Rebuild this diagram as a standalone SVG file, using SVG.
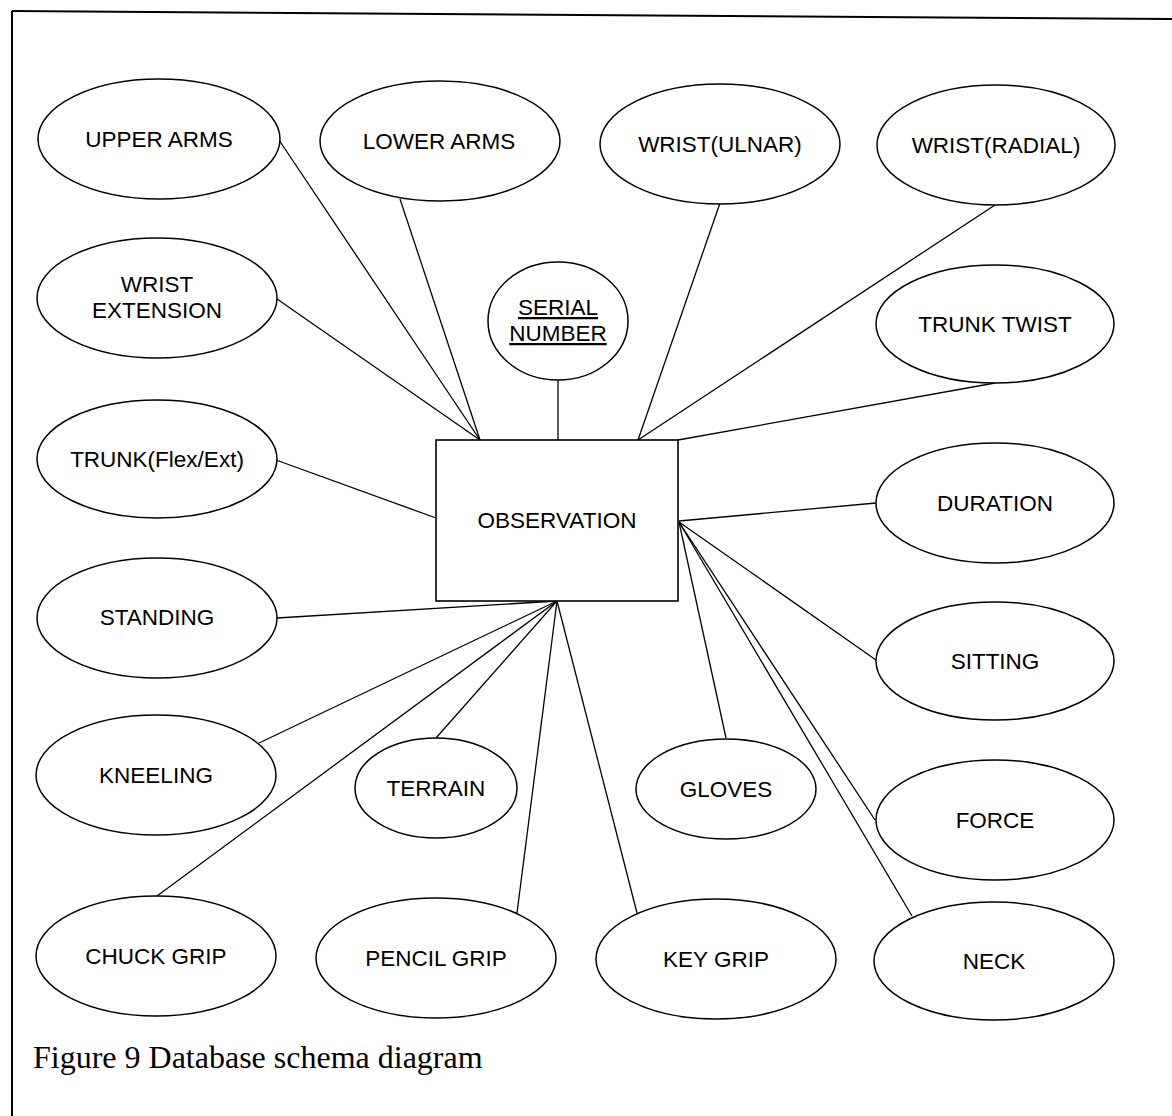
<svg xmlns="http://www.w3.org/2000/svg" width="1172" height="1116" viewBox="0 0 1172 1116">
<style>
  .bg { fill: #ffffff; }
  .frame { stroke: #000; stroke-width: 2; fill: none; }
  .attr ellipse { fill: #fff; stroke: #000; stroke-width: 1.5; }
  .ent rect { fill: #fff; stroke: #000; stroke-width: 1.6; }
  text { font-family: "Liberation Sans", Arial, sans-serif; font-size: 22.5px; fill: #000; text-anchor: middle; }
  .key { text-decoration: underline; }
  .conn line { stroke: #000; stroke-width: 1.3; }
  .caption { font-family: "Liberation Serif", "Times New Roman", serif; font-size: 32px; text-anchor: start; }
</style>
<rect class="bg" x="0" y="0" width="1172" height="1116"/>
<g id="frame">
  <line class="frame" x1="12" y1="11" x2="1172" y2="19"/>
  <line class="frame" x1="12" y1="11" x2="12" y2="1116"/>
</g>
<g id="connectors" class="conn">
  <line x1="279" y1="140" x2="480" y2="440"/>
  <line x1="400" y1="199" x2="480" y2="440"/>
  <line x1="277" y1="299" x2="480" y2="440"/>
  <line x1="558" y1="380" x2="558" y2="440"/>
  <line x1="720" y1="203" x2="638" y2="440"/>
  <line x1="995" y1="205" x2="638" y2="440"/>
  <line x1="995" y1="383" x2="678" y2="440"/>
  <line x1="276" y1="460" x2="436" y2="518"/>
  <line x1="876" y1="503" x2="679" y2="521"/>
  <line x1="876" y1="660" x2="679" y2="522"/>
  <line x1="726" y1="738" x2="679" y2="522"/>
  <line x1="875" y1="820" x2="679" y2="522"/>
  <line x1="912" y1="916" x2="679" y2="522"/>
  <line x1="277" y1="618" x2="557" y2="601"/>
  <line x1="259" y1="743" x2="557" y2="601"/>
  <line x1="157" y1="896" x2="557" y2="601"/>
  <line x1="436" y1="738" x2="557" y2="601"/>
  <line x1="517" y1="913" x2="557" y2="601"/>
  <line x1="637" y1="913" x2="557" y2="601"/>
</g>
<g id="observation" class="ent">
  <rect x="436" y="440" width="242" height="161"/>
  <text x="557" y="528">OBSERVATION</text>
</g>
<g id="serial-number" class="attr">
  <ellipse cx="558" cy="321" rx="70" ry="59"/>
  <text class="key" x="558" y="315">SERIAL</text>
  <text class="key" x="558" y="341">NUMBER</text>
</g>
<g id="upper-arms" class="attr">
  <ellipse cx="159" cy="139" rx="121" ry="60"/>
  <text x="159" y="147">UPPER ARMS</text>
</g>
<g id="lower-arms" class="attr">
  <ellipse cx="440" cy="141" rx="120" ry="60"/>
  <text x="439" y="149">LOWER ARMS</text>
</g>
<g id="wrist-ulnar" class="attr">
  <ellipse cx="720" cy="144" rx="120" ry="60"/>
  <text x="720" y="152">WRIST(ULNAR)</text>
</g>
<g id="wrist-radial" class="attr">
  <ellipse cx="996" cy="145" rx="119" ry="60"/>
  <text x="996" y="153">WRIST(RADIAL)</text>
</g>
<g id="wrist-extension" class="attr">
  <ellipse cx="157" cy="298" rx="120" ry="60"/>
  <text x="157" y="292">WRIST</text>
  <text x="157" y="318">EXTENSION</text>
</g>
<g id="trunk-twist" class="attr">
  <ellipse cx="995" cy="324" rx="119" ry="59"/>
  <text x="995" y="332">TRUNK TWIST</text>
</g>
<g id="trunk-flex-ext" class="attr">
  <ellipse cx="157" cy="459" rx="120" ry="59"/>
  <text x="157" y="467">TRUNK(Flex/Ext)</text>
</g>
<g id="duration" class="attr">
  <ellipse cx="995" cy="503" rx="119" ry="60"/>
  <text x="995" y="511">DURATION</text>
</g>
<g id="standing" class="attr">
  <ellipse cx="157" cy="618" rx="120" ry="60"/>
  <text x="157" y="625">STANDING</text>
</g>
<g id="sitting" class="attr">
  <ellipse cx="995" cy="661" rx="119" ry="59"/>
  <text x="995" y="669">SITTING</text>
</g>
<g id="kneeling" class="attr">
  <ellipse cx="156" cy="775" rx="120" ry="60"/>
  <text x="156" y="783">KNEELING</text>
</g>
<g id="terrain" class="attr">
  <ellipse cx="436" cy="788" rx="81" ry="50"/>
  <text x="436" y="796">TERRAIN</text>
</g>
<g id="gloves" class="attr">
  <ellipse cx="726" cy="789" rx="90" ry="50"/>
  <text x="726" y="797">GLOVES</text>
</g>
<g id="force" class="attr">
  <ellipse cx="995" cy="820" rx="119" ry="60"/>
  <text x="995" y="828">FORCE</text>
</g>
<g id="chuck-grip" class="attr">
  <ellipse cx="156" cy="956" rx="120" ry="60"/>
  <text x="156" y="964">CHUCK GRIP</text>
</g>
<g id="pencil-grip" class="attr">
  <ellipse cx="436" cy="958" rx="120" ry="60"/>
  <text x="436" y="966">PENCIL GRIP</text>
</g>
<g id="key-grip" class="attr">
  <ellipse cx="716" cy="959" rx="120" ry="60"/>
  <text x="716" y="967">KEY GRIP</text>
</g>
<g id="neck" class="attr">
  <ellipse cx="994" cy="961" rx="120" ry="59"/>
  <text x="994" y="969">NECK</text>
</g>
<g id="caption">
  <text class="caption" x="33" y="1068">Figure 9 Database schema diagram</text>
</g>
</svg>
